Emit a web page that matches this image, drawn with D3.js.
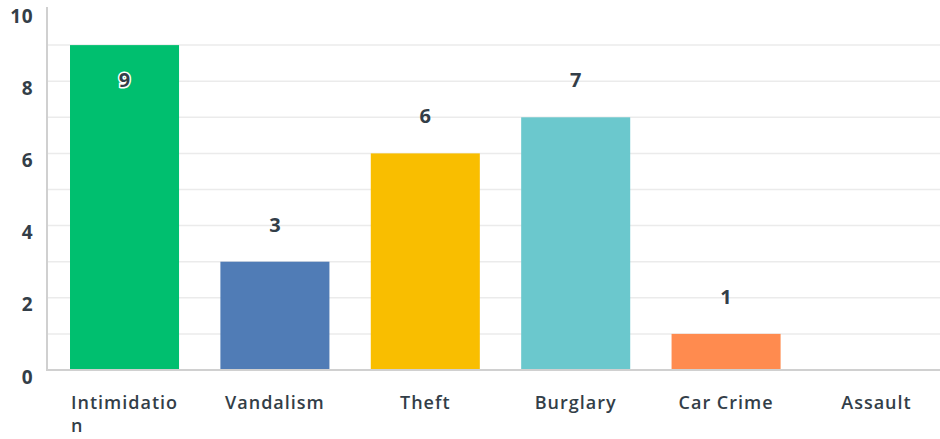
<!DOCTYPE html>
<html><head><meta charset="utf-8">
<script src="https://cdn.jsdelivr.net/npm/d3@7"></script>
<style>body{margin:0;background:#fff}svg{display:block}text{font-family:"Open Sans",Lato,sans-serif}</style>
</head><body><svg id="c" width="940" height="439"></svg>
<script>
const categories = ["Intimidation","Vandalism","Theft","Burglary","Car Crime","Assault"];
const values = [9,3,6,7,1,0];
const colors = ["#00bf6f","#507cb6","#f9be00","#6bc8cd","#ff8b4f","#a0a0a0"];
const yTicks = [0,2,4,6,8,10];
const gridVals = [1,2,3,4,5,6,7,8,9];

const svg = d3.select("#c");
const x0 = 47, base = 370;
const y = d3.scaleLinear().domain([0,10]).range([base, 9]);
const x = d3.scaleBand().domain(categories).range([x0, 954]).paddingInner(0.275).paddingOuter(0.153);
const ink = "#333e48";

svg.append("g").selectAll("line").data(gridVals).join("line")
  .attr("x1", x0).attr("x2", 940).attr("y1", d=>y(d)).attr("y2", d=>y(d))
  .attr("stroke", "#ebebeb").attr("stroke-width", 1.5);

svg.append("g").selectAll("rect").data(categories).join("rect")
  .attr("x", d=>x(d)).attr("width", x.bandwidth())
  .attr("y", (d,i)=>y(values[i])).attr("height", (d,i)=>base - y(values[i]))
  .attr("fill", (d,i)=>colors[i]);

// axes lines
svg.append("line").attr("x1", x0).attr("x2", x0).attr("y1", 7).attr("y2", base+1)
  .attr("stroke", "#d0d0d0").attr("stroke-width", 2);
svg.append("line").attr("x1", x0).attr("x2", 940).attr("y1", base).attr("y2", base)
  .attr("stroke", "#d0d0d0").attr("stroke-width", 2);

// y tick labels
svg.append("g").selectAll("text").data(yTicks).join("text")
  .attr("x", 33).attr("y", d=>y(d)+7).attr("dy", "0.35em")
  .attr("text-anchor", "end").attr("font-size", 19).attr("font-weight", 700)
  .attr("letter-spacing", 0.5)
  .attr("fill", ink).text(d=>d);

// value labels
svg.append("g").selectAll("text").data(categories.filter((d,i)=>values[i]>0)).join("text")
  .attr("x", d=>x(d)+x.bandwidth()/2)
  .attr("y", d=>{const t=y(values[categories.indexOf(d)]); return (t-37<20? t+35 : t-37);})
  .attr("dy", "0.35em").attr("text-anchor", "middle")
  .attr("font-size", 20).attr("font-weight", 700).attr("fill", ink)
  .attr("stroke", d=>y(values[categories.indexOf(d)])-37<20?"#fff":"none").attr("stroke-width", 3)
  .attr("paint-order", "stroke")
  .text(d=>values[categories.indexOf(d)]);

// category labels with wrapping
const cg = svg.append("g");
const fs = 18, ls = 1;
categories.forEach(c=>{
  const cx = x(c)+x.bandwidth()/2;
  const t = cg.append("text").attr("font-size", fs).attr("font-weight", 600).attr("letter-spacing", ls)
    .attr("fill", ink).attr("y", 409).attr("text-anchor","start");
  const maxW = x.bandwidth();
  const lines = [];
  let cur = "";
  const meas = cg.append("text").attr("font-size", fs).attr("font-weight", 600).attr("letter-spacing", ls);
  for (const ch of c) {
    meas.text(cur+ch);
    if (meas.node().getComputedTextLength() > maxW && cur.length) { lines.push(cur); cur = ch; }
    else cur += ch;
  }
  lines.push(cur);
  let w = 0;
  lines.forEach(l=>{meas.text(l); w = Math.max(w, meas.node().getComputedTextLength());});
  meas.remove();
  lines.forEach((l,i)=>{
    t.append("tspan").attr("x", cx - w/2).attr("dy", i===0?0:23).text(l);
  });
});
</script></body></html>
